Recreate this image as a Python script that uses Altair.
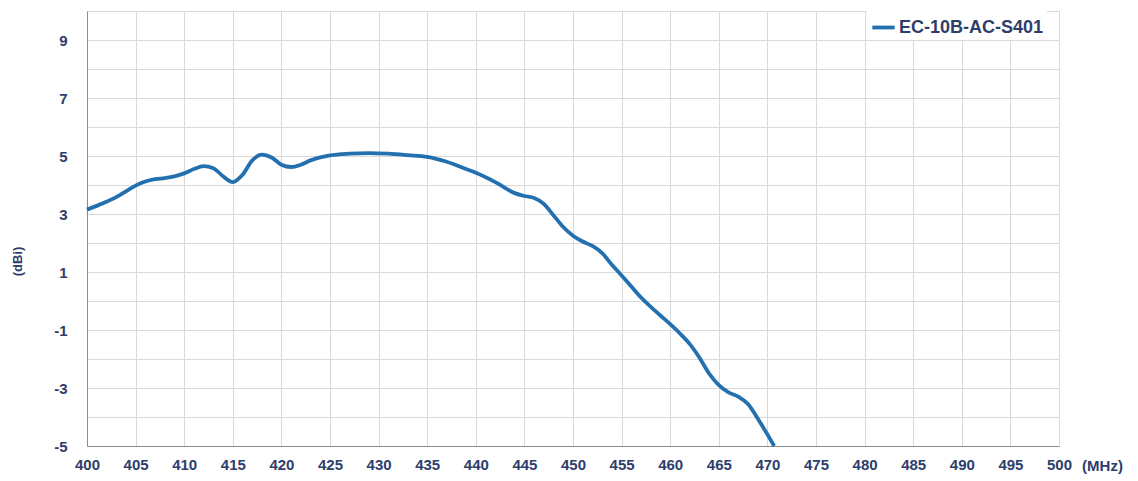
import altair as alt
import pandas as pd

freq = [400, 401, 402, 403, 404, 405, 406, 407, 408, 409, 410, 411, 412, 413, 414, 415,
        416, 417, 418, 419, 420, 421, 422, 423, 424, 425, 427, 429, 431, 433, 435, 437,
        439, 440, 442, 444, 445, 446, 447, 448, 449, 450, 451, 452, 453, 454, 455, 456,
        457, 458, 459, 460, 461, 462, 463, 464, 465, 466, 467, 468, 469, 470, 470.7]
gain = [3.15, 3.28, 3.42, 3.58, 3.78, 3.98, 4.12, 4.2, 4.24, 4.3, 4.4, 4.55, 4.65, 4.58, 4.3, 4.1,
        4.35, 4.85, 5.05, 4.95, 4.7, 4.62, 4.7, 4.85, 4.95, 5.02, 5.08, 5.1, 5.08, 5.03, 4.97, 4.8,
        4.55, 4.42, 4.1, 3.72, 3.62, 3.55, 3.35, 2.95, 2.55, 2.25, 2.05, 1.9, 1.65, 1.25, 0.88, 0.5,
        0.12, -0.2, -0.5, -0.8, -1.12, -1.48, -1.95, -2.5, -2.9, -3.15, -3.3, -3.55, -4.05, -4.6, -5.0]
series_name = "EC-10B-AC-S401"

x_ticks = list(range(400, 501, 5))
y_ticks = list(range(-5, 11))

df = pd.DataFrame({"freq": freq, "gain": gain, "series": [series_name] * len(freq)})

navy = "#2e3d6b"

chart = alt.Chart(df).mark_line(
    interpolate="monotone", strokeWidth=3.8
).encode(
    x=alt.X("freq:Q",
            scale=alt.Scale(domain=[400, 500], nice=False, zero=False),
            axis=alt.Axis(values=x_ticks, title="(MHz)", grid=True, ticks=False,
                          labelPadding=11, labelFontSize=15, labelFontWeight="bold",
                          labelColor=navy, labelFont="Liberation Sans",
                          titleFont="Liberation Sans", titleFontSize=15, titleFontWeight="bold",
                          titleColor=navy, titleX=1015, titleY=19, titleAlign="center",
                          titleBaseline="middle", domainColor="#8c8c8c",
                          gridColor="#d9d9d9", labelFlush=False)),
    y=alt.Y("gain:Q",
            scale=alt.Scale(domain=[-5, 10], nice=False, zero=False),
            axis=alt.Axis(values=y_ticks, title="(dBi)", grid=True, ticks=False,
                          labelExpr="datum.value % 2 != 0 ? '' + datum.value : ''",
                          labelPadding=20, labelFontSize=15, labelFontWeight="bold",
                          labelColor=navy, labelFont="Liberation Sans",
                          titleFont="Liberation Sans", titleFontSize=13, titleFontWeight="bold",
                          titleColor=navy, titleX=-70, titleY=250, titleAngle=270,
                          titleAlign="center", titleBaseline="middle",
                          domainColor="#8c8c8c", gridColor="#d9d9d9", labelFlush=False)),
    color=alt.Color("series:N",
                    scale=alt.Scale(range=["#2270b0"]),
                    legend=alt.Legend(title=None, orient="none", legendX=780, legendY=0,
                                      symbolType="stroke", symbolSize=500, symbolStrokeWidth=3.8,
                                      labelFontSize=18, labelFontWeight="bold", labelColor=navy,
                                      labelFont="Liberation Sans", fillColor="white", padding=3,
                                      labelOffset=2))
).properties(
    width=972, height=435,
    autosize=alt.AutoSizeParams(type="none"),
    padding={"left": 79, "top": 3, "right": 70, "bottom": 30}
).configure_view(stroke="#cccccc")

chart.save("out.html", embed_options={"renderer": "svg", "actions": False})
